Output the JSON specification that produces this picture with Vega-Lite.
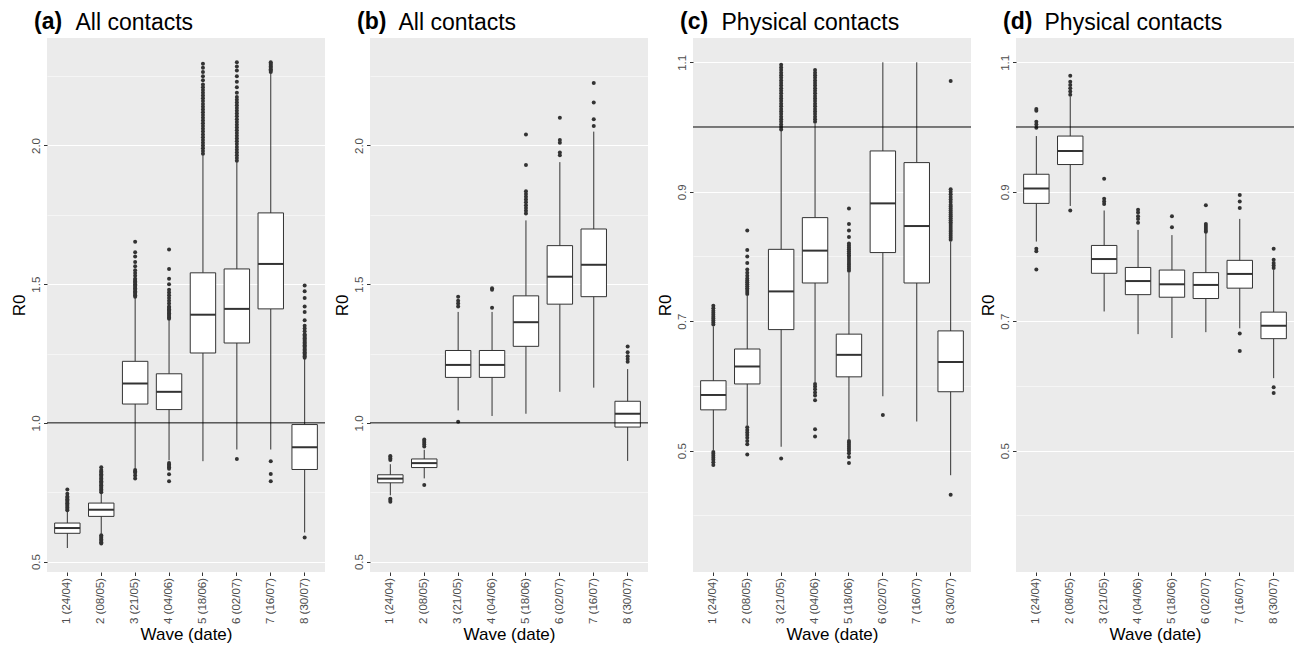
{
"$schema": "https://vega.github.io/schema/vega-lite/v6.json",
"background": "white",
"padding": {"left": 10, "top": 11, "right": 0, "bottom": 0},
"config": {
 "font": "Liberation Sans",
 "view": {"fill": "#EBEBEB", "stroke": null},
 "axis": {"domain": false, "gridColor": "#FFFFFF", "gridWidth": 1.1, "tickColor": "#333333", "tickSize": 3.5, "tickWidth": 1, "labelColor": "#4D4D4D", "labelFontSize": 11.5, "labelFont": "Liberation Sans", "titleFont": "Liberation Sans", "titleFontSize": 17, "titleFontWeight": "normal", "titleColor": "#000000", "labelPadding": 2, "labelOverlap": false},
 "axisX": {"labelAngle": 270, "bandPosition": 0.5, "titlePadding": 3},
 "axisY": {"labelAngle": 270, "titlePadding": 2},
 "title": {"font": "Liberation Sans", "fontSize": 23, "fontWeight": "bold", "anchor": "start", "frame": "group", "color": "#000000", "dx": -13, "offset": -23},
 "concat": {"spacing": 7}
},
"datasets": {
 "waves": [
  {"w": 1, "wave": "1 (24/04)"}, {"w": 2, "wave": "2 (08/05)"}, {"w": 3, "wave": "3 (21/05)"}, {"w": 4, "wave": "4 (04/06)"},
  {"w": 5, "wave": "5 (18/06)"}, {"w": 6, "wave": "6 (02/07)"}, {"w": 7, "wave": "7 (16/07)"}, {"w": 8, "wave": "8 (30/07)"}
 ],
 "boxes": [
  {"p": "a", "wave": "1 (24/04)", "lo": 0.549, "q1": 0.602, "med": 0.621, "q3": 0.639, "hi": 0.681},
  {"p": "a", "wave": "2 (08/05)", "lo": 0.600, "q1": 0.663, "med": 0.687, "q3": 0.711, "hi": 0.745},
  {"p": "a", "wave": "3 (21/05)", "lo": 0.835, "q1": 1.068, "med": 1.142, "q3": 1.222, "hi": 1.450},
  {"p": "a", "wave": "4 (04/06)", "lo": 0.865, "q1": 1.048, "med": 1.112, "q3": 1.177, "hi": 1.370},
  {"p": "a", "wave": "5 (18/06)", "lo": 0.862, "q1": 1.252, "med": 1.390, "q3": 1.541, "hi": 1.965},
  {"p": "a", "wave": "6 (02/07)", "lo": 0.904, "q1": 1.288, "med": 1.411, "q3": 1.555, "hi": 1.940},
  {"p": "a", "wave": "7 (16/07)", "lo": 0.904, "q1": 1.411, "med": 1.573, "q3": 1.757, "hi": 2.260},
  {"p": "a", "wave": "8 (30/07)", "lo": 0.605, "q1": 0.832, "med": 0.912, "q3": 0.994, "hi": 1.230},
  {"p": "b", "wave": "1 (24/04)", "lo": 0.739, "q1": 0.784, "med": 0.799, "q3": 0.813, "hi": 0.851},
  {"p": "b", "wave": "2 (08/05)", "lo": 0.800, "q1": 0.839, "med": 0.855, "q3": 0.870, "hi": 0.903},
  {"p": "b", "wave": "3 (21/05)", "lo": 1.045, "q1": 1.164, "med": 1.209, "q3": 1.261, "hi": 1.400},
  {"p": "b", "wave": "4 (04/06)", "lo": 1.025, "q1": 1.164, "med": 1.209, "q3": 1.261, "hi": 1.400},
  {"p": "b", "wave": "5 (18/06)", "lo": 1.033, "q1": 1.276, "med": 1.363, "q3": 1.458, "hi": 1.730},
  {"p": "b", "wave": "6 (02/07)", "lo": 1.112, "q1": 1.428, "med": 1.527, "q3": 1.639, "hi": 1.940},
  {"p": "b", "wave": "7 (16/07)", "lo": 1.127, "q1": 1.455, "med": 1.570, "q3": 1.699, "hi": 2.050},
  {"p": "b", "wave": "8 (30/07)", "lo": 0.863, "q1": 0.985, "med": 1.033, "q3": 1.078, "hi": 1.194},
  {"p": "c", "wave": "1 (24/04)", "lo": 0.501, "q1": 0.563, "med": 0.586, "q3": 0.608, "hi": 0.692},
  {"p": "c", "wave": "2 (08/05)", "lo": 0.539, "q1": 0.603, "med": 0.630, "q3": 0.657, "hi": 0.739},
  {"p": "c", "wave": "3 (21/05)", "lo": 0.506, "q1": 0.687, "med": 0.746, "q3": 0.811, "hi": 0.994},
  {"p": "c", "wave": "4 (04/06)", "lo": 0.606, "q1": 0.759, "med": 0.809, "q3": 0.860, "hi": 1.005},
  {"p": "c", "wave": "5 (18/06)", "lo": 0.518, "q1": 0.614, "med": 0.648, "q3": 0.680, "hi": 0.775},
  {"p": "c", "wave": "6 (02/07)", "lo": 0.584, "q1": 0.806, "med": 0.882, "q3": 0.963, "hi": 1.100},
  {"p": "c", "wave": "7 (16/07)", "lo": 0.545, "q1": 0.759, "med": 0.847, "q3": 0.945, "hi": 1.100},
  {"p": "c", "wave": "8 (30/07)", "lo": 0.462, "q1": 0.591, "med": 0.637, "q3": 0.685, "hi": 0.823},
  {"p": "d", "wave": "1 (24/04)", "lo": 0.823, "q1": 0.882, "med": 0.905, "q3": 0.927, "hi": 0.986},
  {"p": "d", "wave": "2 (08/05)", "lo": 0.878, "q1": 0.942, "med": 0.963, "q3": 0.986, "hi": 1.047},
  {"p": "d", "wave": "3 (21/05)", "lo": 0.715, "q1": 0.774, "med": 0.796, "q3": 0.817, "hi": 0.871},
  {"p": "d", "wave": "4 (04/06)", "lo": 0.680, "q1": 0.741, "med": 0.762, "q3": 0.783, "hi": 0.841},
  {"p": "d", "wave": "5 (18/06)", "lo": 0.674, "q1": 0.737, "med": 0.757, "q3": 0.779, "hi": 0.833},
  {"p": "d", "wave": "6 (02/07)", "lo": 0.683, "q1": 0.735, "med": 0.756, "q3": 0.775, "hi": 0.836},
  {"p": "d", "wave": "7 (16/07)", "lo": 0.689, "q1": 0.751, "med": 0.773, "q3": 0.794, "hi": 0.858},
  {"p": "d", "wave": "8 (30/07)", "lo": 0.612, "q1": 0.673, "med": 0.693, "q3": 0.714, "hi": 0.779}
 ],
 "ref": [{"r": 1}],
 "outliers": [
  {"p":"a","w":1,"R0":0.685},{"p":"a","w":1,"R0":0.69},{"p":"a","w":1,"R0":0.695},{"p":"a","w":1,"R0":0.70},{"p":"a","w":1,"R0":0.705},{"p":"a","w":1,"R0":0.71},{"p":"a","w":1,"R0":0.715},{"p":"a","w":1,"R0":0.72},{"p":"a","w":1,"R0":0.725},{"p":"a","w":1,"R0":0.73},{"p":"a","w":1,"R0":0.735},{"p":"a","w":1,"R0":0.745},{"p":"a","w":1,"R0":0.76},
  {"p":"a","w":2,"R0":0.75},{"p":"a","w":2,"R0":0.755},{"p":"a","w":2,"R0":0.76},{"p":"a","w":2,"R0":0.765},{"p":"a","w":2,"R0":0.77},{"p":"a","w":2,"R0":0.775},{"p":"a","w":2,"R0":0.78},{"p":"a","w":2,"R0":0.785},{"p":"a","w":2,"R0":0.79},{"p":"a","w":2,"R0":0.795},{"p":"a","w":2,"R0":0.80},{"p":"a","w":2,"R0":0.805},{"p":"a","w":2,"R0":0.81},{"p":"a","w":2,"R0":0.815},{"p":"a","w":2,"R0":0.82},{"p":"a","w":2,"R0":0.825},{"p":"a","w":2,"R0":0.83},{"p":"a","w":2,"R0":0.84},
  {"p":"a","w":2,"R0":0.595},{"p":"a","w":2,"R0":0.59},{"p":"a","w":2,"R0":0.585},{"p":"a","w":2,"R0":0.58},{"p":"a","w":2,"R0":0.575},{"p":"a","w":2,"R0":0.57},{"p":"a","w":2,"R0":0.565},
  {"p":"a","w":3,"R0":1.455},{"p":"a","w":3,"R0":1.46},{"p":"a","w":3,"R0":1.465},{"p":"a","w":3,"R0":1.47},{"p":"a","w":3,"R0":1.475},{"p":"a","w":3,"R0":1.48},{"p":"a","w":3,"R0":1.485},{"p":"a","w":3,"R0":1.49},{"p":"a","w":3,"R0":1.495},{"p":"a","w":3,"R0":1.50},{"p":"a","w":3,"R0":1.505},{"p":"a","w":3,"R0":1.51},{"p":"a","w":3,"R0":1.515},{"p":"a","w":3,"R0":1.52},{"p":"a","w":3,"R0":1.53},{"p":"a","w":3,"R0":1.54},{"p":"a","w":3,"R0":1.55},{"p":"a","w":3,"R0":1.565},{"p":"a","w":3,"R0":1.58},{"p":"a","w":3,"R0":1.60},{"p":"a","w":3,"R0":1.615},{"p":"a","w":3,"R0":1.653},
  {"p":"a","w":3,"R0":0.83},{"p":"a","w":3,"R0":0.825},{"p":"a","w":3,"R0":0.82},{"p":"a","w":3,"R0":0.81},{"p":"a","w":3,"R0":0.80},
  {"p":"a","w":4,"R0":1.375},{"p":"a","w":4,"R0":1.38},{"p":"a","w":4,"R0":1.385},{"p":"a","w":4,"R0":1.39},{"p":"a","w":4,"R0":1.395},{"p":"a","w":4,"R0":1.40},{"p":"a","w":4,"R0":1.405},{"p":"a","w":4,"R0":1.41},{"p":"a","w":4,"R0":1.415},{"p":"a","w":4,"R0":1.42},{"p":"a","w":4,"R0":1.43},{"p":"a","w":4,"R0":1.44},{"p":"a","w":4,"R0":1.45},{"p":"a","w":4,"R0":1.46},{"p":"a","w":4,"R0":1.47},{"p":"a","w":4,"R0":1.48},{"p":"a","w":4,"R0":1.50},{"p":"a","w":4,"R0":1.52},{"p":"a","w":4,"R0":1.555},{"p":"a","w":4,"R0":1.625},
  {"p":"a","w":4,"R0":0.855},{"p":"a","w":4,"R0":0.85},{"p":"a","w":4,"R0":0.845},{"p":"a","w":4,"R0":0.84},{"p":"a","w":4,"R0":0.835},{"p":"a","w":4,"R0":0.815},{"p":"a","w":4,"R0":0.79},
  {"p":"a","w":5,"R0":1.97},{"p":"a","w":5,"R0":1.98},{"p":"a","w":5,"R0":1.99},{"p":"a","w":5,"R0":2.0},{"p":"a","w":5,"R0":2.01},{"p":"a","w":5,"R0":2.02},{"p":"a","w":5,"R0":2.03},{"p":"a","w":5,"R0":2.04},{"p":"a","w":5,"R0":2.05},{"p":"a","w":5,"R0":2.06},{"p":"a","w":5,"R0":2.07},{"p":"a","w":5,"R0":2.08},{"p":"a","w":5,"R0":2.09},{"p":"a","w":5,"R0":2.10},{"p":"a","w":5,"R0":2.11},{"p":"a","w":5,"R0":2.12},{"p":"a","w":5,"R0":2.13},{"p":"a","w":5,"R0":2.14},{"p":"a","w":5,"R0":2.15},{"p":"a","w":5,"R0":2.16},{"p":"a","w":5,"R0":2.17},{"p":"a","w":5,"R0":2.18},{"p":"a","w":5,"R0":2.19},{"p":"a","w":5,"R0":2.20},{"p":"a","w":5,"R0":2.21},{"p":"a","w":5,"R0":2.22},{"p":"a","w":5,"R0":2.235},{"p":"a","w":5,"R0":2.25},{"p":"a","w":5,"R0":2.265},{"p":"a","w":5,"R0":2.28},{"p":"a","w":5,"R0":2.295},
  {"p":"a","w":6,"R0":1.945},{"p":"a","w":6,"R0":1.955},{"p":"a","w":6,"R0":1.965},{"p":"a","w":6,"R0":1.975},{"p":"a","w":6,"R0":1.985},{"p":"a","w":6,"R0":1.995},{"p":"a","w":6,"R0":2.005},{"p":"a","w":6,"R0":2.015},{"p":"a","w":6,"R0":2.025},{"p":"a","w":6,"R0":2.035},{"p":"a","w":6,"R0":2.045},{"p":"a","w":6,"R0":2.055},{"p":"a","w":6,"R0":2.065},{"p":"a","w":6,"R0":2.075},{"p":"a","w":6,"R0":2.085},{"p":"a","w":6,"R0":2.095},{"p":"a","w":6,"R0":2.105},{"p":"a","w":6,"R0":2.115},{"p":"a","w":6,"R0":2.125},{"p":"a","w":6,"R0":2.135},{"p":"a","w":6,"R0":2.145},{"p":"a","w":6,"R0":2.155},{"p":"a","w":6,"R0":2.165},{"p":"a","w":6,"R0":2.175},{"p":"a","w":6,"R0":2.19},{"p":"a","w":6,"R0":2.21},{"p":"a","w":6,"R0":2.23},{"p":"a","w":6,"R0":2.25},{"p":"a","w":6,"R0":2.27},{"p":"a","w":6,"R0":2.285},{"p":"a","w":6,"R0":2.30},
  {"p":"a","w":6,"R0":0.87},
  {"p":"a","w":7,"R0":2.265},{"p":"a","w":7,"R0":2.27},{"p":"a","w":7,"R0":2.275},{"p":"a","w":7,"R0":2.28},{"p":"a","w":7,"R0":2.285},{"p":"a","w":7,"R0":2.29},{"p":"a","w":7,"R0":2.295},{"p":"a","w":7,"R0":2.30},
  {"p":"a","w":7,"R0":0.862},{"p":"a","w":7,"R0":0.816},{"p":"a","w":7,"R0":0.79},
  {"p":"a","w":8,"R0":1.235},{"p":"a","w":8,"R0":1.24},{"p":"a","w":8,"R0":1.245},{"p":"a","w":8,"R0":1.25},{"p":"a","w":8,"R0":1.255},{"p":"a","w":8,"R0":1.26},{"p":"a","w":8,"R0":1.265},{"p":"a","w":8,"R0":1.27},{"p":"a","w":8,"R0":1.275},{"p":"a","w":8,"R0":1.28},{"p":"a","w":8,"R0":1.285},{"p":"a","w":8,"R0":1.29},{"p":"a","w":8,"R0":1.295},{"p":"a","w":8,"R0":1.30},{"p":"a","w":8,"R0":1.305},{"p":"a","w":8,"R0":1.31},{"p":"a","w":8,"R0":1.315},{"p":"a","w":8,"R0":1.32},{"p":"a","w":8,"R0":1.33},{"p":"a","w":8,"R0":1.34},{"p":"a","w":8,"R0":1.35},{"p":"a","w":8,"R0":1.37},{"p":"a","w":8,"R0":1.40},{"p":"a","w":8,"R0":1.42},{"p":"a","w":8,"R0":1.45},{"p":"a","w":8,"R0":1.475},{"p":"a","w":8,"R0":1.495},
  {"p":"a","w":8,"R0":0.587},
  {"p":"b","w":1,"R0":0.866},{"p":"b","w":1,"R0":0.872},{"p":"b","w":1,"R0":0.878},{"p":"b","w":1,"R0":0.881},{"p":"b","w":1,"R0":0.727},{"p":"b","w":1,"R0":0.722},{"p":"b","w":1,"R0":0.716},
  {"p":"b","w":2,"R0":0.915},{"p":"b","w":2,"R0":0.922},{"p":"b","w":2,"R0":0.928},{"p":"b","w":2,"R0":0.935},{"p":"b","w":2,"R0":0.94},{"p":"b","w":2,"R0":0.776},
  {"p":"b","w":3,"R0":1.42},{"p":"b","w":3,"R0":1.43},{"p":"b","w":3,"R0":1.44},{"p":"b","w":3,"R0":1.455},{"p":"b","w":3,"R0":1.004},
  {"p":"b","w":4,"R0":1.415},{"p":"b","w":4,"R0":1.48},{"p":"b","w":4,"R0":1.485},
  {"p":"b","w":5,"R0":1.755},{"p":"b","w":5,"R0":1.765},{"p":"b","w":5,"R0":1.775},{"p":"b","w":5,"R0":1.785},{"p":"b","w":5,"R0":1.795},{"p":"b","w":5,"R0":1.805},{"p":"b","w":5,"R0":1.815},{"p":"b","w":5,"R0":1.825},{"p":"b","w":5,"R0":1.835},{"p":"b","w":5,"R0":1.93},{"p":"b","w":5,"R0":2.04},
  {"p":"b","w":6,"R0":1.965},{"p":"b","w":6,"R0":1.975},{"p":"b","w":6,"R0":2.01},{"p":"b","w":6,"R0":2.02},{"p":"b","w":6,"R0":2.10},
  {"p":"b","w":7,"R0":2.07},{"p":"b","w":7,"R0":2.095},{"p":"b","w":7,"R0":2.155},{"p":"b","w":7,"R0":2.225},
  {"p":"b","w":8,"R0":1.22},{"p":"b","w":8,"R0":1.23},{"p":"b","w":8,"R0":1.24},{"p":"b","w":8,"R0":1.255},{"p":"b","w":8,"R0":1.275},
  {"p":"c","w":1,"R0":0.695},{"p":"c","w":1,"R0":0.698},{"p":"c","w":1,"R0":0.701},{"p":"c","w":1,"R0":0.704},{"p":"c","w":1,"R0":0.707},{"p":"c","w":1,"R0":0.71},{"p":"c","w":1,"R0":0.713},{"p":"c","w":1,"R0":0.716},{"p":"c","w":1,"R0":0.72},{"p":"c","w":1,"R0":0.724},
  {"p":"c","w":1,"R0":0.498},{"p":"c","w":1,"R0":0.495},{"p":"c","w":1,"R0":0.492},{"p":"c","w":1,"R0":0.489},{"p":"c","w":1,"R0":0.486},{"p":"c","w":1,"R0":0.482},{"p":"c","w":1,"R0":0.478},
  {"p":"c","w":2,"R0":0.742},{"p":"c","w":2,"R0":0.745},{"p":"c","w":2,"R0":0.748},{"p":"c","w":2,"R0":0.751},{"p":"c","w":2,"R0":0.754},{"p":"c","w":2,"R0":0.757},{"p":"c","w":2,"R0":0.76},{"p":"c","w":2,"R0":0.763},{"p":"c","w":2,"R0":0.766},{"p":"c","w":2,"R0":0.77},{"p":"c","w":2,"R0":0.775},{"p":"c","w":2,"R0":0.78},{"p":"c","w":2,"R0":0.79},{"p":"c","w":2,"R0":0.80},{"p":"c","w":2,"R0":0.81},{"p":"c","w":2,"R0":0.84},
  {"p":"c","w":2,"R0":0.536},{"p":"c","w":2,"R0":0.532},{"p":"c","w":2,"R0":0.528},{"p":"c","w":2,"R0":0.524},{"p":"c","w":2,"R0":0.52},{"p":"c","w":2,"R0":0.515},{"p":"c","w":2,"R0":0.51},{"p":"c","w":2,"R0":0.494},
  {"p":"c","w":3,"R0":0.996},{"p":"c","w":3,"R0":1.0},{"p":"c","w":3,"R0":1.004},{"p":"c","w":3,"R0":1.008},{"p":"c","w":3,"R0":1.012},{"p":"c","w":3,"R0":1.016},{"p":"c","w":3,"R0":1.02},{"p":"c","w":3,"R0":1.024},{"p":"c","w":3,"R0":1.028},{"p":"c","w":3,"R0":1.032},{"p":"c","w":3,"R0":1.036},{"p":"c","w":3,"R0":1.04},{"p":"c","w":3,"R0":1.044},{"p":"c","w":3,"R0":1.048},{"p":"c","w":3,"R0":1.052},{"p":"c","w":3,"R0":1.056},{"p":"c","w":3,"R0":1.06},{"p":"c","w":3,"R0":1.064},{"p":"c","w":3,"R0":1.068},{"p":"c","w":3,"R0":1.072},{"p":"c","w":3,"R0":1.076},{"p":"c","w":3,"R0":1.08},{"p":"c","w":3,"R0":1.084},{"p":"c","w":3,"R0":1.088},{"p":"c","w":3,"R0":1.092},{"p":"c","w":3,"R0":1.096},
  {"p":"c","w":3,"R0":0.488},
  {"p":"c","w":4,"R0":1.008},{"p":"c","w":4,"R0":1.012},{"p":"c","w":4,"R0":1.016},{"p":"c","w":4,"R0":1.02},{"p":"c","w":4,"R0":1.024},{"p":"c","w":4,"R0":1.028},{"p":"c","w":4,"R0":1.032},{"p":"c","w":4,"R0":1.036},{"p":"c","w":4,"R0":1.04},{"p":"c","w":4,"R0":1.044},{"p":"c","w":4,"R0":1.048},{"p":"c","w":4,"R0":1.052},{"p":"c","w":4,"R0":1.056},{"p":"c","w":4,"R0":1.06},{"p":"c","w":4,"R0":1.064},{"p":"c","w":4,"R0":1.068},{"p":"c","w":4,"R0":1.072},{"p":"c","w":4,"R0":1.076},{"p":"c","w":4,"R0":1.08},{"p":"c","w":4,"R0":1.084},{"p":"c","w":4,"R0":1.088},
  {"p":"c","w":4,"R0":0.603},{"p":"c","w":4,"R0":0.599},{"p":"c","w":4,"R0":0.595},{"p":"c","w":4,"R0":0.59},{"p":"c","w":4,"R0":0.585},{"p":"c","w":4,"R0":0.578},{"p":"c","w":4,"R0":0.533},{"p":"c","w":4,"R0":0.522},
  {"p":"c","w":5,"R0":0.778},{"p":"c","w":5,"R0":0.781},{"p":"c","w":5,"R0":0.784},{"p":"c","w":5,"R0":0.787},{"p":"c","w":5,"R0":0.79},{"p":"c","w":5,"R0":0.793},{"p":"c","w":5,"R0":0.796},{"p":"c","w":5,"R0":0.799},{"p":"c","w":5,"R0":0.802},{"p":"c","w":5,"R0":0.805},{"p":"c","w":5,"R0":0.808},{"p":"c","w":5,"R0":0.811},{"p":"c","w":5,"R0":0.814},{"p":"c","w":5,"R0":0.817},{"p":"c","w":5,"R0":0.82},{"p":"c","w":5,"R0":0.83},{"p":"c","w":5,"R0":0.84},{"p":"c","w":5,"R0":0.85},{"p":"c","w":5,"R0":0.874},
  {"p":"c","w":5,"R0":0.515},{"p":"c","w":5,"R0":0.512},{"p":"c","w":5,"R0":0.509},{"p":"c","w":5,"R0":0.506},{"p":"c","w":5,"R0":0.503},{"p":"c","w":5,"R0":0.5},{"p":"c","w":5,"R0":0.496},{"p":"c","w":5,"R0":0.49},{"p":"c","w":5,"R0":0.481},
  {"p":"c","w":6,"R0":0.555},
  {"p":"c","w":8,"R0":0.826},{"p":"c","w":8,"R0":0.829},{"p":"c","w":8,"R0":0.832},{"p":"c","w":8,"R0":0.835},{"p":"c","w":8,"R0":0.838},{"p":"c","w":8,"R0":0.841},{"p":"c","w":8,"R0":0.844},{"p":"c","w":8,"R0":0.847},{"p":"c","w":8,"R0":0.85},{"p":"c","w":8,"R0":0.853},{"p":"c","w":8,"R0":0.856},{"p":"c","w":8,"R0":0.859},{"p":"c","w":8,"R0":0.862},{"p":"c","w":8,"R0":0.865},{"p":"c","w":8,"R0":0.868},{"p":"c","w":8,"R0":0.871},{"p":"c","w":8,"R0":0.874},{"p":"c","w":8,"R0":0.877},{"p":"c","w":8,"R0":0.88},{"p":"c","w":8,"R0":0.884},{"p":"c","w":8,"R0":0.888},{"p":"c","w":8,"R0":0.892},{"p":"c","w":8,"R0":0.896},{"p":"c","w":8,"R0":0.9},{"p":"c","w":8,"R0":0.904},{"p":"c","w":8,"R0":1.071},{"p":"c","w":8,"R0":0.432},
  {"p":"d","w":1,"R0":0.999},{"p":"d","w":1,"R0":1.004},{"p":"d","w":1,"R0":1.008},{"p":"d","w":1,"R0":1.025},{"p":"d","w":1,"R0":1.028},{"p":"d","w":1,"R0":0.812},{"p":"d","w":1,"R0":0.808},{"p":"d","w":1,"R0":0.78},
  {"p":"d","w":2,"R0":1.05},{"p":"d","w":2,"R0":1.055},{"p":"d","w":2,"R0":1.06},{"p":"d","w":2,"R0":1.065},{"p":"d","w":2,"R0":1.07},{"p":"d","w":2,"R0":1.079},{"p":"d","w":2,"R0":0.871},
  {"p":"d","w":3,"R0":0.881},{"p":"d","w":3,"R0":0.885},{"p":"d","w":3,"R0":0.889},{"p":"d","w":3,"R0":0.92},
  {"p":"d","w":4,"R0":0.852},{"p":"d","w":4,"R0":0.858},{"p":"d","w":4,"R0":0.862},{"p":"d","w":4,"R0":0.868},{"p":"d","w":4,"R0":0.872},
  {"p":"d","w":5,"R0":0.845},{"p":"d","w":5,"R0":0.862},
  {"p":"d","w":6,"R0":0.838},{"p":"d","w":6,"R0":0.841},{"p":"d","w":6,"R0":0.844},{"p":"d","w":6,"R0":0.847},{"p":"d","w":6,"R0":0.85},{"p":"d","w":6,"R0":0.879},
  {"p":"d","w":7,"R0":0.875},{"p":"d","w":7,"R0":0.885},{"p":"d","w":7,"R0":0.895},{"p":"d","w":7,"R0":0.681},{"p":"d","w":7,"R0":0.654},
  {"p":"d","w":8,"R0":0.782},{"p":"d","w":8,"R0":0.786},{"p":"d","w":8,"R0":0.79},{"p":"d","w":8,"R0":0.795},{"p":"d","w":8,"R0":0.812},{"p":"d","w":8,"R0":0.598},{"p":"d","w":8,"R0":0.589}
 ]
},
"hconcat": [
 {
  "width": 278, "height": 534,
  "title": {"text": "(a)"},
  "resolve": {"axis": {"x": "independent"}},
  "layer": [
   {"data": {"name": "boxes"}, "transform": [{"filter": "datum.p == 'a'"}],
    "mark": {"type": "rule", "color": "#333333", "strokeWidth": 1},
    "encoding": {
     "x": {"field": "wave", "type": "nominal", "sort": ["1 (24/04)","2 (08/05)","3 (21/05)","4 (04/06)","5 (18/06)","6 (02/07)","7 (16/07)","8 (30/07)"], "scale": {"paddingInner": 0, "paddingOuter": 0.1}, "title": "Wave (date)"},
     "y": {"field": "lo", "type": "quantitative", "title": "R0", "scale": {"domain": [0.4625, 2.3875], "nice": false, "zero": false},
      "axis": {"values": [0.5, 0.75, 1, 1.25, 1.5, 1.75, 2, 2.25], "labelExpr": "datum.value % 0.5 == 0 ? format(datum.value, '.1f') : ''", "gridWidth": {"condition": {"test": "datum.value % 0.5 == 0", "value": 1.1}, "value": 0.5}, "tickOpacity": {"condition": {"test": "datum.value % 0.5 == 0", "value": 1}, "value": 0}}},
     "y2": {"field": "hi"}
    }},
   {"data": {"name": "boxes"}, "transform": [{"filter": "datum.p == 'a'"}],
    "mark": {"type": "bar", "fill": "#FFFFFF", "stroke": "#333333", "strokeWidth": 1, "width": {"band": 0.75}},
    "encoding": {"x": {"field": "wave", "type": "nominal", "title": "Wave (date)", "axis": null}, "y": {"field": "q1", "type": "quantitative", "title": "R0"}, "y2": {"field": "q3"}}},
   {"data": {"name": "boxes"}, "transform": [{"filter": "datum.p == 'a'"}],
    "mark": {"type": "tick", "color": "#333333", "thickness": 2, "size": 25.4, "orient": "horizontal", "opacity": 1},
    "encoding": {"x": {"field": "wave", "type": "nominal", "title": "All contacts", "axis": {"orient": "top", "labels": false, "ticks": false, "domain": false, "grid": false, "titleFontSize": 23, "titleFontWeight": "normal", "titleColor": "#000000", "titleAnchor": "start", "titleAlign": "left", "titleBaseline": "alphabetic", "titleX": 28, "titleY": -9}}, "y": {"field": "med", "type": "quantitative", "title": "R0"}}},
   {"data": {"name": "outliers"}, "transform": [{"filter": "datum.p == 'a'"}, {"lookup": "w", "from": {"data": {"name": "waves"}, "key": "w", "fields": ["wave"]}}],
    "mark": {"type": "circle", "color": "#333333", "size": 16, "opacity": 1},
    "encoding": {"x": {"field": "wave", "type": "nominal", "title": "Wave (date)", "axis": null}, "y": {"field": "R0", "type": "quantitative", "title": "R0"}}},
   {"data": {"name": "ref"},
    "mark": {"type": "rule", "color": "#000000", "strokeWidth": 1},
    "encoding": {"y": {"field": "r", "type": "quantitative", "title": "R0"}}}
  ]
 },
 {
  "width": 278, "height": 534,
  "title": {"text": "(b)"},
  "resolve": {"axis": {"x": "independent"}},
  "layer": [
   {"data": {"name": "boxes"}, "transform": [{"filter": "datum.p == 'b'"}],
    "mark": {"type": "rule", "color": "#333333", "strokeWidth": 1},
    "encoding": {
     "x": {"field": "wave", "type": "nominal", "sort": ["1 (24/04)","2 (08/05)","3 (21/05)","4 (04/06)","5 (18/06)","6 (02/07)","7 (16/07)","8 (30/07)"], "scale": {"paddingInner": 0, "paddingOuter": 0.1}, "title": "Wave (date)"},
     "y": {"field": "lo", "type": "quantitative", "title": "R0", "scale": {"domain": [0.4625, 2.3875], "nice": false, "zero": false},
      "axis": {"values": [0.5, 0.75, 1, 1.25, 1.5, 1.75, 2, 2.25], "labelExpr": "datum.value % 0.5 == 0 ? format(datum.value, '.1f') : ''", "gridWidth": {"condition": {"test": "datum.value % 0.5 == 0", "value": 1.1}, "value": 0.5}, "tickOpacity": {"condition": {"test": "datum.value % 0.5 == 0", "value": 1}, "value": 0}}},
     "y2": {"field": "hi"}
    }},
   {"data": {"name": "boxes"}, "transform": [{"filter": "datum.p == 'b'"}],
    "mark": {"type": "bar", "fill": "#FFFFFF", "stroke": "#333333", "strokeWidth": 1, "width": {"band": 0.75}},
    "encoding": {"x": {"field": "wave", "type": "nominal", "title": "Wave (date)", "axis": null}, "y": {"field": "q1", "type": "quantitative", "title": "R0"}, "y2": {"field": "q3"}}},
   {"data": {"name": "boxes"}, "transform": [{"filter": "datum.p == 'b'"}],
    "mark": {"type": "tick", "color": "#333333", "thickness": 2, "size": 25.4, "orient": "horizontal", "opacity": 1},
    "encoding": {"x": {"field": "wave", "type": "nominal", "title": "All contacts", "axis": {"orient": "top", "labels": false, "ticks": false, "domain": false, "grid": false, "titleFontSize": 23, "titleFontWeight": "normal", "titleColor": "#000000", "titleAnchor": "start", "titleAlign": "left", "titleBaseline": "alphabetic", "titleX": 28, "titleY": -9}}, "y": {"field": "med", "type": "quantitative", "title": "R0"}}},
   {"data": {"name": "outliers"}, "transform": [{"filter": "datum.p == 'b'"}, {"lookup": "w", "from": {"data": {"name": "waves"}, "key": "w", "fields": ["wave"]}}],
    "mark": {"type": "circle", "color": "#333333", "size": 16, "opacity": 1},
    "encoding": {"x": {"field": "wave", "type": "nominal", "title": "Wave (date)", "axis": null}, "y": {"field": "R0", "type": "quantitative", "title": "R0"}}},
   {"data": {"name": "ref"},
    "mark": {"type": "rule", "color": "#000000", "strokeWidth": 1},
    "encoding": {"y": {"field": "r", "type": "quantitative", "title": "R0"}}}
  ]
 },
 {
  "width": 278, "height": 534,
  "title": {"text": "(c)"},
  "resolve": {"axis": {"x": "independent"}},
  "layer": [
   {"data": {"name": "boxes"}, "transform": [{"filter": "datum.p == 'c'"}],
    "mark": {"type": "rule", "color": "#333333", "strokeWidth": 1},
    "encoding": {
     "x": {"field": "wave", "type": "nominal", "sort": ["1 (24/04)","2 (08/05)","3 (21/05)","4 (04/06)","5 (18/06)","6 (02/07)","7 (16/07)","8 (30/07)"], "scale": {"paddingInner": 0, "paddingOuter": 0.1}, "title": "Wave (date)"},
     "y": {"field": "lo", "type": "quantitative", "title": "R0", "scale": {"domain": [0.3125, 1.1375], "nice": false, "zero": false},
      "axis": {"values": [0.4, 0.5, 0.6, 0.7, 0.8, 0.9, 1.0, 1.1], "labelExpr": "indexof([0.5, 0.7, 0.9, 1.1], datum.value) >= 0 ? format(datum.value, '.1f') : ''", "gridWidth": {"condition": {"test": "indexof([0.5, 0.7, 0.9, 1.1], datum.value) >= 0", "value": 1.1}, "value": 0.5}, "tickOpacity": {"condition": {"test": "indexof([0.5, 0.7, 0.9, 1.1], datum.value) >= 0", "value": 1}, "value": 0}}},
     "y2": {"field": "hi"}
    }},
   {"data": {"name": "boxes"}, "transform": [{"filter": "datum.p == 'c'"}],
    "mark": {"type": "bar", "fill": "#FFFFFF", "stroke": "#333333", "strokeWidth": 1, "width": {"band": 0.75}},
    "encoding": {"x": {"field": "wave", "type": "nominal", "title": "Wave (date)", "axis": null}, "y": {"field": "q1", "type": "quantitative", "title": "R0"}, "y2": {"field": "q3"}}},
   {"data": {"name": "boxes"}, "transform": [{"filter": "datum.p == 'c'"}],
    "mark": {"type": "tick", "color": "#333333", "thickness": 2, "size": 25.4, "orient": "horizontal", "opacity": 1},
    "encoding": {"x": {"field": "wave", "type": "nominal", "title": "Physical contacts", "axis": {"orient": "top", "labels": false, "ticks": false, "domain": false, "grid": false, "titleFontSize": 23, "titleFontWeight": "normal", "titleColor": "#000000", "titleAnchor": "start", "titleAlign": "left", "titleBaseline": "alphabetic", "titleX": 28, "titleY": -9}}, "y": {"field": "med", "type": "quantitative", "title": "R0"}}},
   {"data": {"name": "outliers"}, "transform": [{"filter": "datum.p == 'c'"}, {"lookup": "w", "from": {"data": {"name": "waves"}, "key": "w", "fields": ["wave"]}}],
    "mark": {"type": "circle", "color": "#333333", "size": 16, "opacity": 1},
    "encoding": {"x": {"field": "wave", "type": "nominal", "title": "Wave (date)", "axis": null}, "y": {"field": "R0", "type": "quantitative", "title": "R0"}}},
   {"data": {"name": "ref"},
    "mark": {"type": "rule", "color": "#000000", "strokeWidth": 1},
    "encoding": {"y": {"field": "r", "type": "quantitative", "title": "R0"}}}
  ]
 },
 {
  "width": 278, "height": 534,
  "title": {"text": "(d)"},
  "resolve": {"axis": {"x": "independent"}},
  "layer": [
   {"data": {"name": "boxes"}, "transform": [{"filter": "datum.p == 'd'"}],
    "mark": {"type": "rule", "color": "#333333", "strokeWidth": 1},
    "encoding": {
     "x": {"field": "wave", "type": "nominal", "sort": ["1 (24/04)","2 (08/05)","3 (21/05)","4 (04/06)","5 (18/06)","6 (02/07)","7 (16/07)","8 (30/07)"], "scale": {"paddingInner": 0, "paddingOuter": 0.1}, "title": "Wave (date)"},
     "y": {"field": "lo", "type": "quantitative", "title": "R0", "scale": {"domain": [0.3125, 1.1375], "nice": false, "zero": false},
      "axis": {"values": [0.4, 0.5, 0.6, 0.7, 0.8, 0.9, 1.0, 1.1], "labelExpr": "indexof([0.5, 0.7, 0.9, 1.1], datum.value) >= 0 ? format(datum.value, '.1f') : ''", "gridWidth": {"condition": {"test": "indexof([0.5, 0.7, 0.9, 1.1], datum.value) >= 0", "value": 1.1}, "value": 0.5}, "tickOpacity": {"condition": {"test": "indexof([0.5, 0.7, 0.9, 1.1], datum.value) >= 0", "value": 1}, "value": 0}}},
     "y2": {"field": "hi"}
    }},
   {"data": {"name": "boxes"}, "transform": [{"filter": "datum.p == 'd'"}],
    "mark": {"type": "bar", "fill": "#FFFFFF", "stroke": "#333333", "strokeWidth": 1, "width": {"band": 0.75}},
    "encoding": {"x": {"field": "wave", "type": "nominal", "title": "Wave (date)", "axis": null}, "y": {"field": "q1", "type": "quantitative", "title": "R0"}, "y2": {"field": "q3"}}},
   {"data": {"name": "boxes"}, "transform": [{"filter": "datum.p == 'd'"}],
    "mark": {"type": "tick", "color": "#333333", "thickness": 2, "size": 25.4, "orient": "horizontal", "opacity": 1},
    "encoding": {"x": {"field": "wave", "type": "nominal", "title": "Physical contacts", "axis": {"orient": "top", "labels": false, "ticks": false, "domain": false, "grid": false, "titleFontSize": 23, "titleFontWeight": "normal", "titleColor": "#000000", "titleAnchor": "start", "titleAlign": "left", "titleBaseline": "alphabetic", "titleX": 28, "titleY": -9}}, "y": {"field": "med", "type": "quantitative", "title": "R0"}}},
   {"data": {"name": "outliers"}, "transform": [{"filter": "datum.p == 'd'"}, {"lookup": "w", "from": {"data": {"name": "waves"}, "key": "w", "fields": ["wave"]}}],
    "mark": {"type": "circle", "color": "#333333", "size": 16, "opacity": 1},
    "encoding": {"x": {"field": "wave", "type": "nominal", "title": "Wave (date)", "axis": null}, "y": {"field": "R0", "type": "quantitative", "title": "R0"}}},
   {"data": {"name": "ref"},
    "mark": {"type": "rule", "color": "#000000", "strokeWidth": 1},
    "encoding": {"y": {"field": "r", "type": "quantitative", "title": "R0"}}}
  ]
 }
]
}
